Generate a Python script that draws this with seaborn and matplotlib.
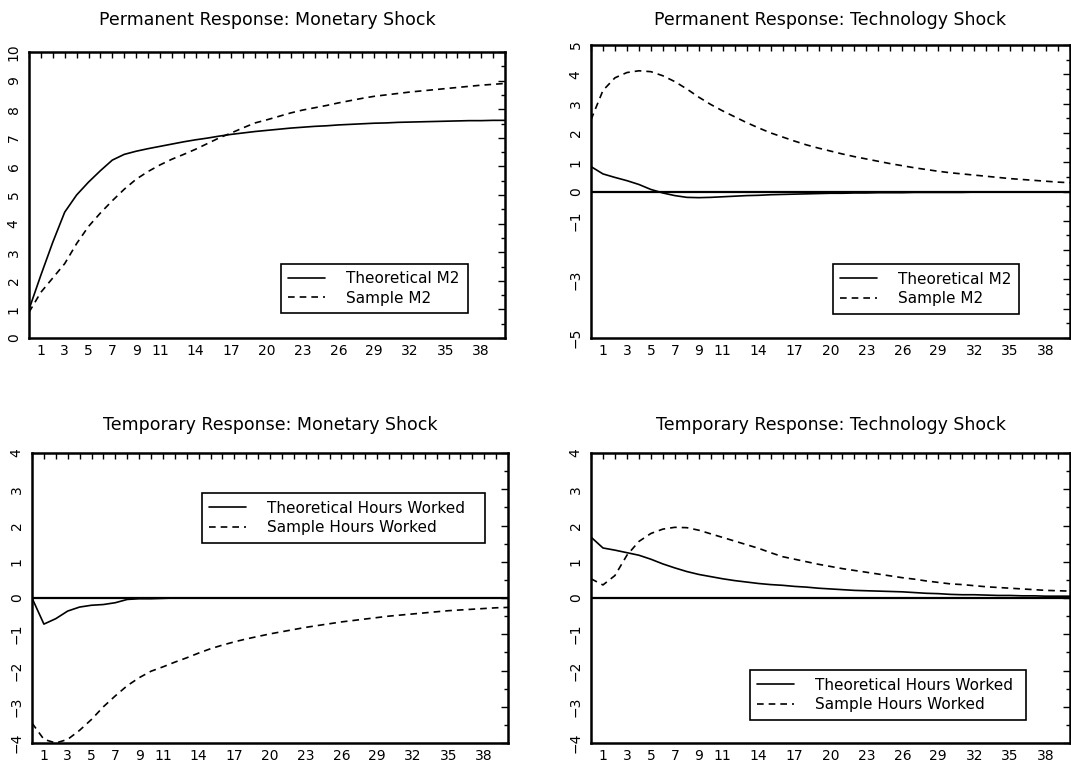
import numpy as np
import pandas as pd
import matplotlib
matplotlib.use("Agg")
import matplotlib.pyplot as plt
from matplotlib.ticker import FixedLocator, MultipleLocator, FixedFormatter
import seaborn as sns

# Forecast horizon (quarters)
quarters = list(range(0, 41))

# Permanent response to a monetary shock
perm_mon_theoretical = [1.0, 2.2, 3.35, 4.4, 5.0, 5.45, 5.85, 6.22, 6.42, 6.53,
                        6.62, 6.7, 6.78, 6.86, 6.93, 6.99, 7.06, 7.12, 7.17, 7.22,
                        7.26, 7.3, 7.34, 7.37, 7.4, 7.42, 7.45, 7.47, 7.49, 7.51,
                        7.52, 7.54, 7.55, 7.56, 7.57, 7.58, 7.59, 7.6, 7.6, 7.61, 7.61]
perm_mon_sample = [0.9, 1.6, 2.1, 2.6, 3.3, 3.9, 4.37, 4.8, 5.2, 5.55,
                   5.82, 6.05, 6.25, 6.42, 6.6, 6.8, 7.0, 7.17, 7.35, 7.52,
                   7.63, 7.75, 7.87, 7.97, 8.05, 8.13, 8.22, 8.3, 8.38, 8.45,
                   8.5, 8.55, 8.6, 8.64, 8.68, 8.72, 8.76, 8.8, 8.84, 8.87, 8.9]

# Permanent response to a technology shock
perm_tech_theoretical = [0.85, 0.6, 0.48, 0.37, 0.24, 0.07, -0.05, -0.14, -0.2, -0.21,
                         -0.2, -0.18, -0.16, -0.14, -0.13, -0.11, -0.1, -0.09, -0.08, -0.07,
                         -0.06, -0.06, -0.05, -0.05, -0.04, -0.04, -0.04, -0.03, -0.03, -0.03,
                         -0.03, -0.03, -0.02, -0.02, -0.02, -0.02, -0.02, -0.02, -0.02, -0.02, -0.02]
perm_tech_sample = [2.45, 3.45, 3.88, 4.06, 4.12, 4.09, 3.95, 3.75, 3.5, 3.22,
                    2.97, 2.75, 2.55, 2.35, 2.17, 2.0, 1.86, 1.72, 1.59, 1.48,
                    1.38, 1.28, 1.19, 1.11, 1.03, 0.95, 0.88, 0.81, 0.75, 0.69,
                    0.64, 0.6, 0.56, 0.52, 0.48, 0.44, 0.41, 0.38, 0.35, 0.32, 0.3]

# Temporary response to a monetary shock
temp_mon_theoretical = [0.0, -0.72, -0.57, -0.36, -0.25, -0.2, -0.18, -0.13, -0.04, -0.02,
                        -0.02, -0.01, 0.0, 0.0, 0.0, 0.0, 0.0, 0.0, 0.0, 0.0,
                        0.0, 0.0, 0.0, 0.0, 0.0, 0.0, 0.0, 0.0, 0.0, 0.0,
                        0.0, 0.0, 0.0, 0.0, 0.0, 0.0, 0.0, 0.0, 0.0, 0.0, 0.0]
temp_mon_sample = [-3.45, -3.9, -4.0, -3.9, -3.65, -3.35, -3.0, -2.7, -2.42, -2.2,
                   -2.02, -1.9, -1.77, -1.65, -1.52, -1.4, -1.3, -1.21, -1.13, -1.06,
                   -0.99, -0.93, -0.87, -0.81, -0.76, -0.71, -0.66, -0.62, -0.58, -0.54,
                   -0.5, -0.47, -0.44, -0.41, -0.38, -0.35, -0.33, -0.31, -0.29, -0.27, -0.26]

# Temporary response to a technology shock
temp_tech_theoretical = [1.68, 1.38, 1.32, 1.25, 1.18, 1.07, 0.94, 0.83, 0.73, 0.65,
                         0.59, 0.53, 0.48, 0.44, 0.4, 0.37, 0.35, 0.32, 0.3, 0.27,
                         0.25, 0.23, 0.21, 0.2, 0.19, 0.18, 0.17, 0.15, 0.13, 0.12,
                         0.1, 0.09, 0.09, 0.08, 0.07, 0.07, 0.06, 0.06, 0.05, 0.05, 0.05]
temp_tech_sample = [0.53, 0.36, 0.62, 1.18, 1.56, 1.78, 1.9, 1.95, 1.94, 1.87,
                    1.77, 1.67, 1.57, 1.47, 1.37, 1.25, 1.14, 1.07, 1.0, 0.93,
                    0.87, 0.81, 0.76, 0.71, 0.66, 0.61, 0.56, 0.52, 0.47, 0.43,
                    0.39, 0.37, 0.34, 0.31, 0.29, 0.27, 0.25, 0.23, 0.21, 0.2, 0.19]

titles = ["Permanent Response: Monetary Shock",
          "Permanent Response: Technology Shock",
          "Temporary Response: Monetary Shock",
          "Temporary Response: Technology Shock"]
m2_labels = ["Theoretical M2", "Sample M2"]
hours_labels = ["Theoretical Hours Worked", "Sample Hours Worked"]

xtick_values = [1, 3, 5, 7, 9, 11, 14, 17, 20, 23, 26, 29, 32, 35, 38]
ytick_perm_mon = ["0", "1", "2", "3", "4", "5", "6", "7", "8", "9", "10"]
ytick_perm_tech = ["\u22125", "", "\u22123", "", "\u22121", "0", "1", "2", "3", "4", "5"]
ytick_temp = ["\u22124", "\u22123", "\u22122", "\u22121", "0", "1", "2", "3", "4"]

sns.set_theme(style="white")
plt.rcParams["font.family"] = ["DejaVu Sans"]
plt.rcParams["axes.edgecolor"] = "black"
plt.rcParams["text.color"] = "black"
plt.rcParams["xtick.color"] = "black"
plt.rcParams["ytick.color"] = "black"

W, H = 1071, 764
fig = plt.figure(figsize=(W / 100, H / 100), dpi=100)


def box(l, t, r, b):
    return [l / W, 1 - b / H, (r - l) / W, (b - t) / H]


panels = [
    dict(rect=box(29, 52, 505, 338), title=titles[0], title_y=20, theo=perm_mon_theoretical,
         samp=perm_mon_sample, labels=m2_labels, ylim=(0, 10), ylabels=ytick_perm_mon,
         zero=False, legbox=(273, 260, 476, 317)),
    dict(rect=box(591, 45, 1070, 338), title=titles[1], title_y=20, theo=perm_tech_theoretical,
         samp=perm_tech_sample, labels=m2_labels, ylim=(-5, 5), ylabels=ytick_perm_tech,
         zero=True, legbox=(825, 261, 1027, 317)),
    dict(rect=box(32, 453, 508, 743), title=titles[2], title_y=425, theo=temp_mon_theoretical,
         samp=temp_mon_sample, labels=hours_labels, ylim=(-4, 4), ylabels=ytick_temp,
         zero=True, legbox=(194, 489, 493, 547)),
    dict(rect=box(591, 453, 1070, 743), title=titles[3], title_y=425, theo=temp_tech_theoretical,
         samp=temp_tech_sample, labels=hours_labels, ylim=(-4, 4), ylabels=ytick_temp,
         zero=True, legbox=(742, 667, 1034, 723)),
]

for p in panels:
    ax = fig.add_axes(p["rect"])
    df = pd.DataFrame({
        "quarter": quarters * 2,
        "value": list(p["theo"]) + list(p["samp"]),
        "series": [p["labels"][0]] * len(quarters) + [p["labels"][1]] * len(quarters),
    })
    if p["zero"]:
        ax.axhline(0, color="black", lw=1.6, zorder=1)
    sns.lineplot(data=df, x="quarter", y="value", style="series",
                 style_order=p["labels"],
                 dashes={p["labels"][0]: "", p["labels"][1]: (4, 3)},
                 color="black", linewidth=1.2, ax=ax, legend=True, zorder=3)
    ax.set_xlim(0, 40)
    ax.set_ylim(*p["ylim"])
    ax.set_xlabel("")
    ax.set_ylabel("")

    lo, hi = p["ylim"]
    ax.yaxis.set_major_locator(FixedLocator(list(range(lo, hi + 1))))
    ax.yaxis.set_major_formatter(FixedFormatter(p["ylabels"]))
    ax.yaxis.set_minor_locator(MultipleLocator(0.5))
    ax.xaxis.set_major_locator(FixedLocator(xtick_values))
    ax.xaxis.set_minor_locator(MultipleLocator(1))
    ax.tick_params(axis="both", which="both", direction="in", top=True, right=True,
                   color="black", width=1.0)
    ax.tick_params(axis="x", which="major", length=4, pad=4, labelsize=10)
    ax.tick_params(axis="x", which="minor", length=4)
    ax.tick_params(axis="y", which="major", length=5, pad=6, labelsize=10)
    ax.tick_params(axis="y", which="minor", length=3)
    for lab in ax.get_yticklabels():
        lab.set_rotation(90)
        lab.set_va("center")
    for s in ax.spines.values():
        s.set_linewidth(1.8)
        s.set_color("black")

    # legend placed in its framed box
    l, t, r, b = p["legbox"]
    x0, x1 = ax.get_position().x0, ax.get_position().x1
    y0, y1 = ax.get_position().y0, ax.get_position().y1
    bx = ((l / W) - x0) / (x1 - x0)
    by = ((1 - b / H) - y0) / (y1 - y0)
    bw = ((r - l) / W) / (x1 - x0)
    bh = ((b - t) / H) / (y1 - y0)
    handles, labs = ax.get_legend_handles_labels()
    leg = ax.legend(handles, labs, loc="center", bbox_to_anchor=(bx, by, bw, bh),
                    mode="expand", frameon=True, fancybox=False, framealpha=1,
                    edgecolor="black", fontsize=11, handlelength=2.4,
                    handletextpad=1.4, borderpad=0.5, labelspacing=0.3)
    leg.get_frame().set_linewidth(1.2)
    for line in leg.get_lines():
        line.set_linewidth(1.2)

    pos = ax.get_position()
    fig.text((pos.x0 + pos.x1) / 2, 1 - p["title_y"] / H, p["title"],
             ha="center", va="center", fontsize=12.5)

fig.savefig("out.png", dpi=100)
